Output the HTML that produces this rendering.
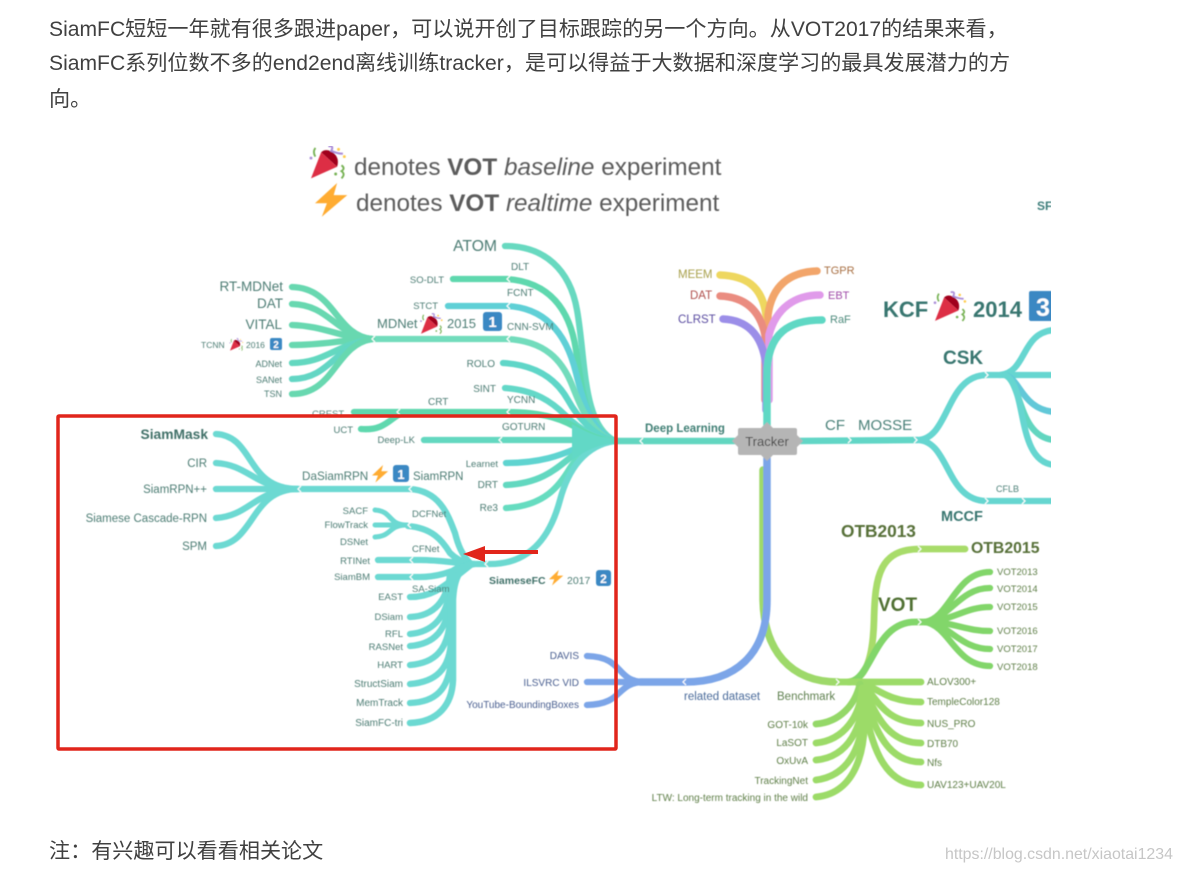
<!DOCTYPE html>
<html><head><meta charset="utf-8">
<style>
html,body{margin:0;padding:0;background:#fff}
body{width:1181px;height:872px;overflow:hidden;position:relative}
svg{position:absolute;left:0;top:0}
.p{font-family:"Liberation Sans","Noto Sans CJK SC",sans-serif}
.l{fill:none;stroke-linecap:round}
text{font-family:"Liberation Sans","Noto Sans CJK SC",sans-serif}
</style></head><body>
<svg width="1181" height="872" viewBox="0 0 1181 872">
<defs>
<filter id="soft" x="0" y="0" width="100%" height="100%"><feGaussianBlur stdDeviation="0.4"/></filter>
<clipPath id="clipd"><rect x="50" y="130" width="1001" height="690"/></clipPath>
<g id="pop">
<path d="M0,23 L7,5 L18,15 Z" fill="#dd2e44"/>
<path d="M7,5 L18,15 Q20,9 15,5 Q10,2 7,5 Z" fill="#a0041e"/>
<path d="M3,2 Q1,5 3,8" fill="none" stroke="#77b255" stroke-width="1.3"/>
<path d="M12,1 Q16,0 14,4 Q18,6 22,6" fill="none" stroke="#aa8dd8" stroke-width="1.4"/>
<path d="M21,14 Q24,16 21,18 Q24,20 21,23" fill="none" stroke="#77b255" stroke-width="1.3"/>
<circle cx="19" cy="3" r="1" fill="#ffcc4d"/><circle cx="23" cy="8" r="1" fill="#ffcc4d"/><circle cx="0" cy="9" r="1" fill="#aa8dd8"/><circle cx="17" cy="20" r="1" fill="#77b255"/>
</g>
<path id="bolt" d="M13,0 L0,15 L7,15 L4,25 L19,9 L11,9 Z" fill="#ffac33"/>
</defs>

<g class="p" fill="#404040" font-size="21.1">
<text x="49" y="36">SiamFC短短一年就有很多跟进paper，可以说开创了目标跟踪的另一个方向。从VOT2017的结果来看，</text>
<text x="49" y="70">SiamFC系列位数不多的end2end离线训练tracker，是可以得益于大数据和深度学习的最具发展潜力的方</text>
<text x="49" y="106">向。</text>
<text x="49" y="858">注：有兴趣可以看看相关论文</text>
</g>
<text x="945" y="859" font-size="15.9" fill="#c6c6c6">https://blog.csdn.net/xiaotai1234</text>

<g clip-path="url(#clipd)"><g filter="url(#soft)">
<!-- legend -->
<use href="#pop" transform="translate(311,145) scale(1.45)"/>
<use href="#bolt" transform="translate(315,183) scale(1.7,1.35)"/>
<text x="354" y="175" font-size="24.3" fill="#5c5c5c">denotes <tspan font-weight="bold">VOT</tspan> <tspan font-style="italic">baseline</tspan> experiment</text>
<text x="356" y="211" font-size="24.3" fill="#5c5c5c">denotes <tspan font-weight="bold">VOT</tspan> <tspan font-style="italic">realtime</tspan> experiment</text>
<text x="1037" y="210" font-size="12" font-weight="bold" fill="#3f7f7c">SF</text>

<text x="312" y="417" font-size="9.5" fill="#5a8a80">CREST</text>

<!-- Deep learning tree -->
<g class="l" stroke-width="6.3">
<path d="M505,246 C545,246 570,270 577,310 C586,360 582,425 615,441" stroke="#68d9c0"/>
<path d="M453,279 H507 C550,282 570,310 576,350 C583,395 585,428 615,441" stroke="#5ed8ae"/>
<path d="M448,306 H507 C550,308 568,340 576,373 C584,405 592,432 615,441" stroke="#5fd0d6"/>
<path d="M374,339 H507 C545,341 562,360 572,385 C582,410 592,435 615,441" stroke="#72dcbc"/>
<path d="M503,363 C540,365 558,382 568,400 C578,418 595,437 615,441" stroke="#5fd6c8"/>
<path d="M505,388 C535,390 552,402 565,415 C578,428 595,439 615,441" stroke="#64d8c8"/>
<path d="M354,412 H507 C545,412 565,420 582,431 C595,438 605,441 615,441" stroke="#5ed8ae"/>
<path d="M361,429 C385,431 390,418 402,413" stroke="#5ed8ae"/>
<path d="M424,440 H615" stroke="#64d8c0"/>
<path d="M506,463 C545,463 565,453 580,447 C592,443 605,441 615,441" stroke="#5ed4d0"/>
<path d="M506,485 C548,483 562,462 578,452 C590,445 605,441 615,441" stroke="#62d8c0"/>
<path d="M506,508 C545,506 560,485 570,468 C580,452 600,442 615,441" stroke="#66dcc0"/>
<path d="M470,564 H490 C535,564 552,530 560,500 C568,470 585,445 615,441" stroke="#6cd9d0"/>
</g>
<path d="M572,424 C590,434 600,438 618,439 V443 C600,444 590,448 572,460 Z" fill="#62d8c6"/>
<g class="l" stroke-width="6.3" stroke="#68d8b0">
<path d="M292,287 C335,288 335,335 372,339"/>
<path d="M292,304 C330,305 335,335 372,339"/>
<path d="M292,325 C325,326 340,338 372,339"/>
<path d="M292,345 C325,345 340,340 372,339"/>
<path d="M292,363 C325,363 335,345 372,339" stroke="#64d8c0"/>
<path d="M292,379 C330,379 335,345 372,339" stroke="#64d6c4"/>
<path d="M292,394 C335,394 335,345 372,339"/>
</g>
<g class="l" stroke-width="6.3" stroke="#6cd9d2">
<path d="M216,434 C255,436 245,489 298,489"/>
<path d="M216,463 C250,465 255,489 298,489"/>
<path d="M216,489 H410 C440,491 448,515 455,533 C458,545 462,555 470,563"/>
<path d="M216,518 C250,516 255,489 298,489"/>
<path d="M216,546 C255,544 250,489 298,489"/>
<path d="M375,510 C392,511 388,524 405,525" stroke-width="5"/>
<path d="M375,525 H407" stroke-width="5"/>
<path d="M375,537 C392,536 388,526 405,525" stroke-width="5"/>
<path d="M408,526 C432,528 442,540 450,553 C455,558 462,562 470,564"/>
<path d="M378,560 H420 C440,560 455,563 472,564"/>
<path d="M378,577 H420 C438,577 450,572 472,564"/>
<path d="M410,597 C435,597 445,585 472,564"/>
<path d="M410,617 C435,616 447,600 450,575 C452,570 458,566 472,564"/>
<path d="M410,634 C432,632 445,618 449,595 C451,575 458,566 472,564"/>
<path d="M410,646 C435,644 447,630 450,600 C451,575 458,566 472,564"/>
<path d="M410,665 C435,663 448,650 450,620 V600 C451,575 458,566 472,564"/>
<path d="M410,684 C435,682 450,670 451,640 V600 C451,575 458,566 472,564"/>
<path d="M410,703 C435,702 449,690 451,660 V600 C451,575 458,566 472,564"/>
<path d="M410,723 C438,722 452,705 453,680 V600 C454,578 460,566 474,564" stroke-width="6.5"/>
</g>
<!-- Tracker top -->
<g class="l" stroke-width="7.5">
<path d="M720,275 C745,276 762,285 766,315 V390" stroke="#eed75f" />
<path d="M817,271 C790,272 772,285 768,315 V390" stroke="#f2a56b"/>
<path d="M720,296 C745,297 760,310 765,335 V400" stroke="#ea8c80"/>
<path d="M820,295 C795,295 776,308 769,335 V400" stroke="#e09aea"/>
<path d="M723,319 C745,320 762,332 766,365 V410" stroke="#9b8ee8"/>
<path d="M822,320 C790,320 767,332 767,375 V430" stroke="#5fd8c4"/>
</g>
<!-- Right side -->
<g class="l" stroke-width="6.5">
<path d="M615,441 H740" stroke="#62d6c0"/>
<path d="M795,441 L917,440" stroke="#62d6c6"/>
</g>
<g class="l" stroke-width="6.3" stroke="#66d6d0">
<path d="M917,440 C950,440 945,375 987,375 H1015"/>
<path d="M917,440 C950,440 945,501 987,501 H1055"/>
<path d="M1000,375 C1028,372 1020,332 1055,330"/>
<path d="M1010,375 H1055"/>
<path d="M1005,375 C1020,378 1022,410 1055,412" stroke="#62c8d8"/>
<path d="M1005,375 C1022,382 1018,438 1055,440" stroke="#62d6c0"/>
<path d="M1005,375 C1028,385 1015,463 1055,465"/>
</g>
<!-- Bottom -->
<g class="l">
<path d="M763,470 V600 C764,650 790,682 838,682" stroke="#9ed96a" stroke-width="7.5"/>
<path d="M767,458 V600 C767,655 735,682 685,682 H640" stroke="#7ba5e8" stroke-width="7.5"/>
<g stroke="#7ba5e8" stroke-width="6.3">
<path d="M587,656 C625,657 615,682 645,682"/>
<path d="M587,682 H645"/>
<path d="M587,705 C625,704 615,682 645,682"/>
</g>
<g stroke="#9cdb68" stroke-width="6.8">
<path d="M848,682 C865,680 873,660 874,620 C875,575 880,549 920,549 H965" stroke="#a8dc6a"/>
<path d="M850,682 C872,678 875,622 915,622 H945" stroke="#82d66a"/>
<g stroke="#82d66a" stroke-width="6.3">
<path d="M925,622 C950,618 955,572 990,572"/>
<path d="M925,622 C950,618 960,588 990,588"/>
<path d="M925,622 C955,620 965,607 990,607"/>
<path d="M925,622 C955,622 965,631 990,631"/>
<path d="M925,622 C950,624 960,649 990,649"/>
<path d="M925,622 C950,626 955,666 990,666"/>
</g>
<path d="M838,682 H921"/>
<path d="M858,682 C875,685 885,702 921,702"/>
<path d="M858,682 C875,690 880,723 921,723"/>
<path d="M858,682 C872,695 878,743 921,743"/>
<path d="M858,682 C870,700 875,762 921,762"/>
<path d="M858,682 C868,705 868,785 921,785"/>
<path d="M860,684 C855,705 840,722 816,724" stroke="#94d868"/>
<path d="M862,690 C860,715 845,740 816,743"/>
<path d="M864,695 C862,725 850,757 816,760"/>
<path d="M864,695 C865,735 855,775 816,780"/>
<path d="M862,688 C870,740 860,793 816,797"/>
</g>
</g>

<!-- white chevron separators -->
<path d="M510,276 l-3,3 3,3 M510,303 l-3,3 3,3 M510,336 l-3,3 3,3 M375,336 l-3,3 3,3 M510,409 l-3,3 3,3 M400,409 l-3,3 3,3 M502,437 l-3,3 3,3 M301,486 l-3,3 3,3 M412,486 l-3,3 3,3 M411,522 l-3,3 3,3 M413,557 l-3,3 3,3 M413,574 l-3,3 3,3 M488,561 l-3,3 3,3 M643,438 l-3,3 3,3 M686,679 l-3,3 3,3 M848,437 l3,3 -3,3 M914,437 l3,3 -3,3 M985,372 l3,3 -3,3 M985,498 l3,3 -3,3 M1022,498 l3,3 -3,3 M836,679 l3,3 -3,3 M918,546 l3,3 -3,3 M918,619 l3,3 -3,3" fill="none" stroke="#fff" stroke-width="1.2"/>

<!-- Tracker node -->
<path d="M767,422 L773,428 H795 Q797,428 797,430 V435 L803,441 L797,447 V453 Q797,455 795,455 H773 L767,461 L761,455 H740 Q738,455 738,453 V447 L732,441 L738,435 V430 Q738,428 740,428 H761 Z" fill="#b5b5b5"/>
<text x="767" y="446" text-anchor="middle" font-size="13" fill="#444">Tracker</text>

<!-- labels left -->
<g fill="#4d7d74" font-size="10.5" text-anchor="end">
<text x="497" y="251" font-size="15.7">ATOM</text>
<text x="444" y="283" font-size="9.5">SO-DLT</text>
<text x="438" y="309" font-size="9.5">STCT</text>
<text x="283" y="291" font-size="13.5">RT-MDNet</text>
<text x="283" y="308" font-size="13.5">DAT</text>
<text x="282" y="329" font-size="13.5">VITAL</text>
<text x="282" y="367" font-size="9">ADNet</text>
<text x="282" y="383" font-size="9">SANet</text>
<text x="282" y="397" font-size="9">TSN</text>
<text x="495" y="367" font-size="10">ROLO</text>
<text x="496" y="392" font-size="10">SINT</text>
<text x="353" y="433" font-size="9.5">UCT</text>
<text x="415" y="443" font-size="9.5">Deep-LK</text>
<text x="498" y="467" font-size="9.5">Learnet</text>
<text x="498" y="488" font-size="10">DRT</text>
<text x="498" y="511" font-size="10">Re3</text>
<text x="208" y="439" font-size="13.8" font-weight="bold" fill="#3f7068">SiamMask</text>
<text x="207" y="467" font-size="11.5">CIR</text>
<text x="207" y="493" font-size="11.5">SiamRPN++</text>
<text x="207" y="522" font-size="11.5">Siamese Cascade-RPN</text>
<text x="207" y="550" font-size="11.5">SPM</text>
<text x="368" y="514" font-size="9.5">SACF</text>
<text x="368" y="528" font-size="9.5">FlowTrack</text>
<text x="368" y="545" font-size="9.5">DSNet</text>
<text x="370" y="564" font-size="9.5">RTINet</text>
<text x="370" y="580" font-size="9.5">SiamBM</text>
<text x="403" y="600" font-size="9.5">EAST</text>
<text x="403" y="620" font-size="9.5">DSiam</text>
<text x="403" y="637" font-size="9.5">RFL</text>
<text x="403" y="650" font-size="9.5">RASNet</text>
<text x="403" y="668" font-size="9.5">HART</text>
<text x="403" y="687" font-size="10">StructSiam</text>
<text x="403" y="706" font-size="10">MemTrack</text>
<text x="403" y="726" font-size="10">SiamFC-tri</text>
</g>
<g fill="#4d7d74" font-size="10">
<text x="511" y="270">DLT</text>
<text x="507" y="296">FCNT</text>
<text x="507" y="330">CNN-SVM</text>
<text x="428" y="405">CRT</text>
<text x="507" y="403">YCNN</text>
<text x="502" y="430">GOTURN</text>
<text x="377" y="328" font-size="13">MDNet</text>
<use href="#pop" transform="translate(421,313) scale(.9)"/>
<text x="447" y="328" font-size="13">2015</text>
<rect x="483" y="312" width="19" height="19" rx="3" fill="#3b88c3"/>
<text x="492.500" y="327" text-anchor="middle" font-size="15" font-weight="bold" fill="#fff">1</text>
<text x="201" y="348" font-size="8.500">TCNN</text>
<use href="#pop" transform="translate(230,338) scale(.55)"/>
<text x="246" y="348" font-size="8.500">2016</text>
<rect x="270" y="338" width="12" height="12" rx="2" fill="#3b88c3"/>
<text x="276" y="348" text-anchor="middle" font-size="10" font-weight="bold" fill="#fff">2</text>
<text x="302" y="480" font-size="11.7">DaSiamRPN</text>
<use href="#bolt" transform="translate(372,465) scale(.85,.7)"/>
<rect x="393" y="465" width="16" height="17" rx="3" fill="#3b88c3"/>
<text x="401" y="479" text-anchor="middle" font-size="13" font-weight="bold" fill="#fff">1</text>
<text x="413" y="480" font-size="11.500">SiamRPN</text>
<text x="412" y="517" font-size="9.5">DCFNet</text>
<text x="412" y="552" font-size="9.5">CFNet</text>
<text x="412" y="592" font-size="9.5">SA-Siam</text>
<text x="489" y="584" font-size="10.5" font-weight="bold" fill="#3f7068">SiameseFC</text>
<use href="#bolt" transform="translate(549,570) scale(.75,.62)"/>
<text x="567" y="584" font-size="10.5">2017</text>
<rect x="596" y="570" width="15" height="16" rx="3" fill="#3b88c3"/>
<text x="603.500" y="583" text-anchor="middle" font-size="12" font-weight="bold" fill="#fff">2</text>
<text x="645" y="432" font-size="11.500" font-weight="bold" fill="#3f7f74">Deep Learning</text>
</g>
<!-- labels top -->
<g font-size="11.500">
<text x="678" y="278" fill="#a8a04c">MEEM</text>
<text x="690" y="299" fill="#b0504c">DAT</text>
<text x="678" y="323" fill="#5a4ca0">CLRST</text>
<text x="824" y="274" fill="#a87044" font-size="11">TGPR</text>
<text x="828" y="299" fill="#a04ca8" font-size="11">EBT</text>
<text x="830" y="323" fill="#4d8a7c" font-size="11">RaF</text>
</g>
<!-- right labels -->
<g fill="#39766f">
<text x="825" y="430" font-size="15" fill="#4a8078">CF</text>
<text x="858" y="430" font-size="15" fill="#4a8078">MOSSE</text>
<text x="883" y="317" font-size="22" font-weight="bold">KCF</text>
<use href="#pop" transform="translate(935,291) scale(1.3)"/>
<text x="973" y="317" font-size="22" font-weight="bold">2014</text>
<rect x="1029" y="291" width="24" height="30" rx="2" fill="#3b88c3"/>
<text x="1036" y="316" font-size="25" font-weight="bold" fill="#fff">3</text>
<text x="943" y="364" font-size="19" font-weight="bold">CSK</text>
<text x="996" y="492" font-size="9" fill="#4d8078">CFLB</text>
<text x="941" y="521" font-size="14.500" font-weight="bold">MCCF</text>
</g>
<!-- bottom labels -->
<g fill="#4a5f90" font-size="10" text-anchor="end">
<text x="579" y="659">DAVIS</text>
<text x="579" y="686">ILSVRC VID</text>
<text x="579" y="708">YouTube-BoundingBoxes</text>
</g>
<text x="684" y="700" font-size="11.500" fill="#4a6a9a">related dataset</text>
<text x="777" y="700" font-size="11.500" fill="#5f8050">Benchmark</text>
<g fill="#5f7f48" font-size="10">
<text x="997" y="575" font-size="9.5">VOT2013</text><text x="997" y="592" font-size="9.5">VOT2014</text><text x="997" y="610" font-size="9.5">VOT2015</text><text x="997" y="634" font-size="9.5">VOT2016</text><text x="997" y="652" font-size="9.5">VOT2017</text><text x="997" y="670" font-size="9.5">VOT2018</text>
<text x="927" y="685">ALOV300+</text><text x="927" y="705">TempleColor128</text><text x="927" y="727">NUS_PRO</text><text x="927" y="747">DTB70</text><text x="927" y="766">Nfs</text><text x="927" y="788">UAV123+UAV20L</text>
<g text-anchor="end">
<text x="808" y="728">GOT-10k</text><text x="808" y="746">LaSOT</text><text x="808" y="764">OxUvA</text><text x="808" y="784">TrackingNet</text><text x="808" y="801">LTW: Long-term tracking in the wild</text>
</g>
</g>
<text x="841" y="537" font-size="17.300" font-weight="bold" fill="#566f38">OTB2013</text>
<text x="971" y="553" font-size="15.800" font-weight="bold" fill="#566f38">OTB2015</text>
<text x="878" y="611" font-size="19" font-weight="bold" fill="#4f6f32">VOT</text>
</g></g>

<!-- red annotations -->
<rect x="58" y="416" width="558" height="333" rx="1" fill="none" stroke="#e1251b" stroke-width="3.500"/>
<path d="M484,552 L538,552" stroke="#e1251b" stroke-width="4"/>
<path d="M463,554 L485,546 L485,562 Z" fill="#e1251b"/>
</svg>
</body></html>
